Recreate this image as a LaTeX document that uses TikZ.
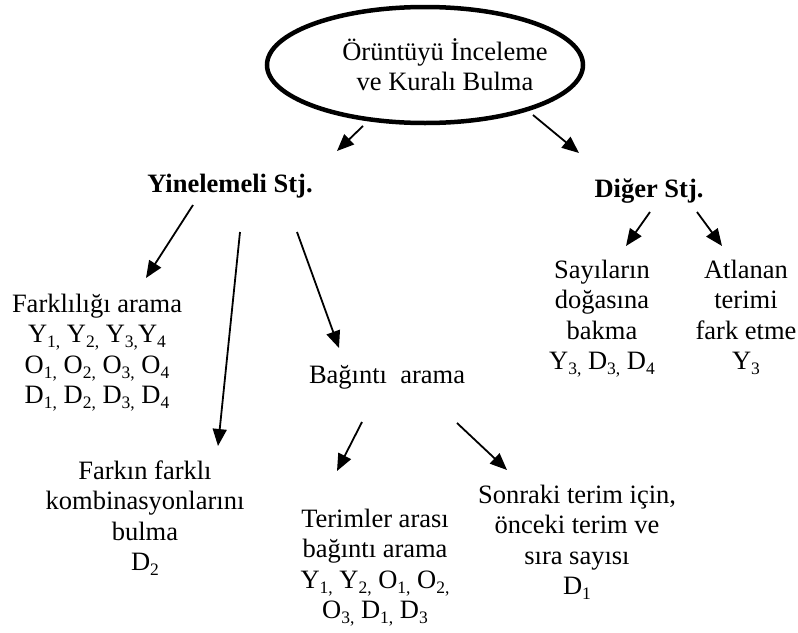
\documentclass[tikz,border=0pt]{standalone}
\usepackage{fontspec}
\setmainfont{Liberation Serif}
\usetikzlibrary{arrows.meta,shapes.geometric}
\tikzset{
  txt/.style={font=\fontsize{26.5}{30.5}\selectfont,inner sep=0pt,anchor=base},
  hd/.style={font=\fontsize{26.5}{30.5}\selectfont\bfseries,inner sep=0pt,anchor=base},
  arr/.style={line width=1.8pt,-{Triangle[length=17pt,width=14pt]}},
}
\newcommand{\sbs}[1]{\raisebox{-0.19em}{\fontsize{17.5}{17.5}\selectfont #1}}
\newcommand{\mlines}[1]{\begin{tabular}[t]{@{}c@{}}#1\end{tabular}}
\begin{document}
\begin{tikzpicture}[x=1pt,y=-1pt]
\useasboundingbox (0,0) rectangle (798,632);
\node[ellipse,draw,line width=4.5pt,minimum width=316pt,minimum height=116pt,inner sep=0pt] (top) at (425,65) {};
\node[txt] (toptxt) at (445,60) {\mlines{Örüntüyü İnceleme\\ve Kuralı Bulma}};
\node[hd] (yin) at (230,192) {Yinelemeli Stj.};
\node[hd] (dig) at (649,197) {Diğer Stj.};
\node[txt] (fark) at (97,312) {\mlines{Farklılığı arama\\Y\sbs{1,} Y\sbs{2,} Y\sbs{3,}Y\sbs{4}\\O\sbs{1,} O\sbs{2,} O\sbs{3,} O\sbs{4}\\D\sbs{1,} D\sbs{2,} D\sbs{3,} D\sbs{4}}};
\node[txt] (bag) at (387,383) {Bağıntı\ \ arama};
\node[txt] (komb) at (145,479) {\mlines{Farkın farklı\\kombinasyonlarını\\bulma\\D\sbs{2}}};
\node[txt] (ter) at (375,527) {\mlines{Terimler arası\\bağıntı arama\\Y\sbs{1,} Y\sbs{2,} O\sbs{1,} O\sbs{2,}\\O\sbs{3,} D\sbs{1,} D\sbs{3}}};
\node[txt] (son) at (577,503) {\mlines{Sonraki terim için,\\önceki terim ve\\sıra sayısı\\D\sbs{1}}};
\node[txt] (say) at (602,278) {\mlines{Sayıların\\doğasına\\bakma\\Y\sbs{3,} D\sbs{3,} D\sbs{4}}};
\node[txt] (atl) at (746,278) {\mlines{Atlanan\\terimi\\fark etme\\Y\sbs{3}}};
% arrow endpoints
\coordinate (a1s) at (363,126); \coordinate (a1e) at (337,151);
\coordinate (a2s) at (533,115); \coordinate (a2e) at (579,153);
\coordinate (b1s) at (193,205); \coordinate (b1e) at (146,278);
\coordinate (b2s) at (240,232); \coordinate (b2e) at (218,446);
\coordinate (b3s) at (297,232); \coordinate (b3e) at (339,348);
\coordinate (c1s) at (362,422); \coordinate (c1e) at (337,471);
\coordinate (c2s) at (457,423); \coordinate (c2e) at (507,470);
\coordinate (d1s) at (650,212); \coordinate (d1e) at (626,246);
\coordinate (d2s) at (697,212); \coordinate (d2e) at (722,246);
\draw[arr] (a1s) -- (a1e);
\draw[arr] (a2s) -- (a2e);
\draw[arr] (b1s) -- (b1e);
\draw[arr] (b2s) -- (b2e);
\draw[arr] (b3s) -- (b3e);
\draw[arr] (c1s) -- (c1e);
\draw[arr] (c2s) -- (c2e);
\draw[arr] (d1s) -- (d1e);
\draw[arr] (d2s) -- (d2e);
\end{tikzpicture}
\end{document}
